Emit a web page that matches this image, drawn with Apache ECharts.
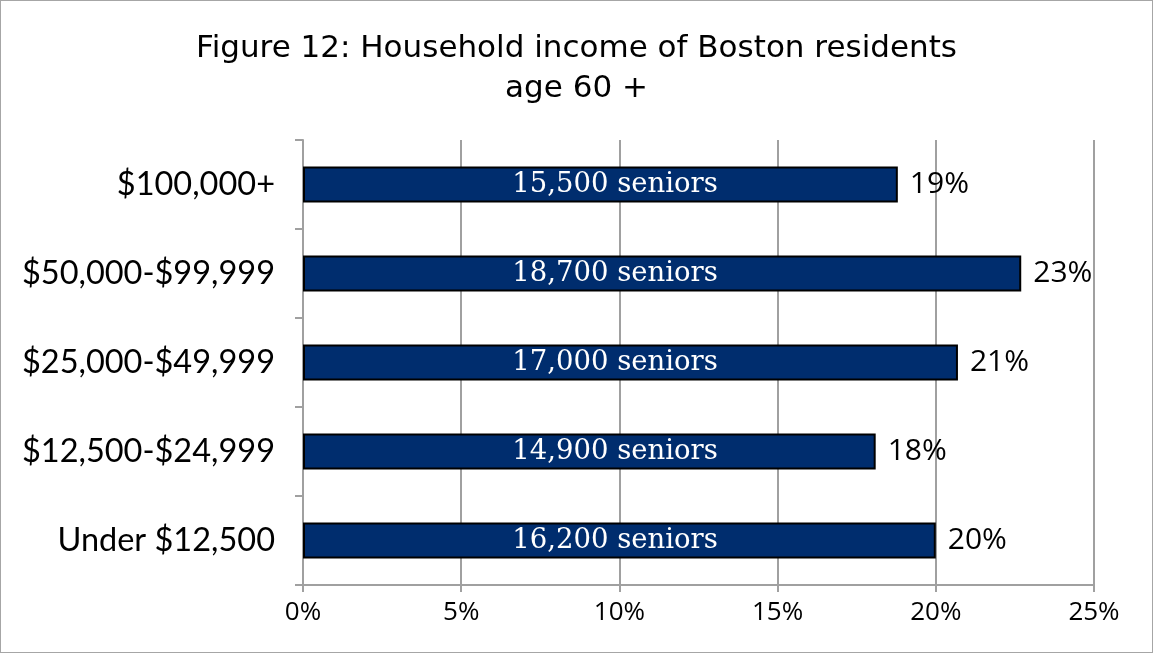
<!DOCTYPE html>
<html>
<head>
<meta charset="utf-8">
<script src="https://cdn.jsdelivr.net/npm/echarts@6/dist/echarts.min.js"></script>
<style>
  html, body { margin: 0; padding: 0; background: #fff; }
  #main { width: 1151px; height: 651px; border: 1px solid #a6a6a6; }
</style>
</head>
<body>
<div id="main"></div>
<script type="text/javascript">
    // 数据（从上到下）
    var categories = ['$100,000+', '$50,000-$99,999', '$25,000-$49,999', '$12,500-$24,999', 'Under $12,500'];
    var shares = [18.8, 22.7, 20.7, 18.1, 20.0];
    var shareLabels = ['19%', '23%', '21%', '18%', '20%'];
    var seniorCounts = ['15,500', '18,700', '17,000', '14,900', '16,200'];
    var xTicks = [0, 5, 10, 15, 20, 25];

    var myChart = echarts.init(document.getElementById('main'));

    var option = {
        animation: false,
        title: {
            text: 'Figure 12: Household income of Boston residents\nage 60 +',
            left: 'center',
            top: 23,
            textStyle: {
                fontFamily: 'DejaVu Sans',
                fontWeight: 'normal',
                fontSize: 31,
                lineHeight: 40,
                color: '#000'
            }
        },
        grid: {
            left: 302,
            right: 58,
            top: 139,
            bottom: 67
        },
        xAxis: {
            type: 'value',
            min: xTicks[0],
            max: xTicks[xTicks.length - 1],
            interval: 5,
            axisLine: { show: true, lineStyle: { color: '#a0a0a0', width: 2 } },
            axisTick: { show: true, length: 7, lineStyle: { color: '#a0a0a0', width: 2 } },
            splitLine: { show: true, lineStyle: { color: '#a0a0a0', width: 2 } },
            axisLabel: {
                formatter: '{value}%',
                fontFamily: 'Open Sans',
                fontSize: 26,
                color: '#000',
                margin: 15
            }
        },
        yAxis: {
            type: 'category',
            data: categories,
            inverse: true,
            axisLine: { show: true, lineStyle: { color: '#a0a0a0', width: 2 } },
            axisTick: { show: true, length: 8, lineStyle: { color: '#a0a0a0', width: 2 } },
            axisLabel: {
                fontFamily: 'Lato',
                fontSize: 32.5,
                color: '#000',
                margin: 28
            }
        },
        series: [{
            name: 'share',
            type: 'bar',
            data: shares,
            barWidth: 36,
            itemStyle: {
                color: '#002d6e',
                borderColor: '#000',
                borderWidth: 2
            },
            label: {
                show: true,
                position: 'right',
                distance: 12,
                fontFamily: 'Open Sans',
                fontSize: 30,
                color: '#000',
                formatter: function (p) { return shareLabels[p.dataIndex]; }
            }
        }, {
            // 柱内 "xx seniors" 文字
            name: 'seniors',
            type: 'bar',
            data: shares,
            barWidth: 36,
            barGap: '-100%',
            silent: true,
            itemStyle: { color: 'transparent' },
            label: {
                show: true,
                position: [312, '50%'],
                align: 'center',
                verticalAlign: 'middle',
                fontFamily: 'DejaVu Serif',
                fontSize: 27.5,
                color: '#fff',
                formatter: function (p) { return seniorCounts[p.dataIndex] + ' seniors'; }
            }
        }]
    };

    myChart.setOption(option);
</script>
</body>
</html>
